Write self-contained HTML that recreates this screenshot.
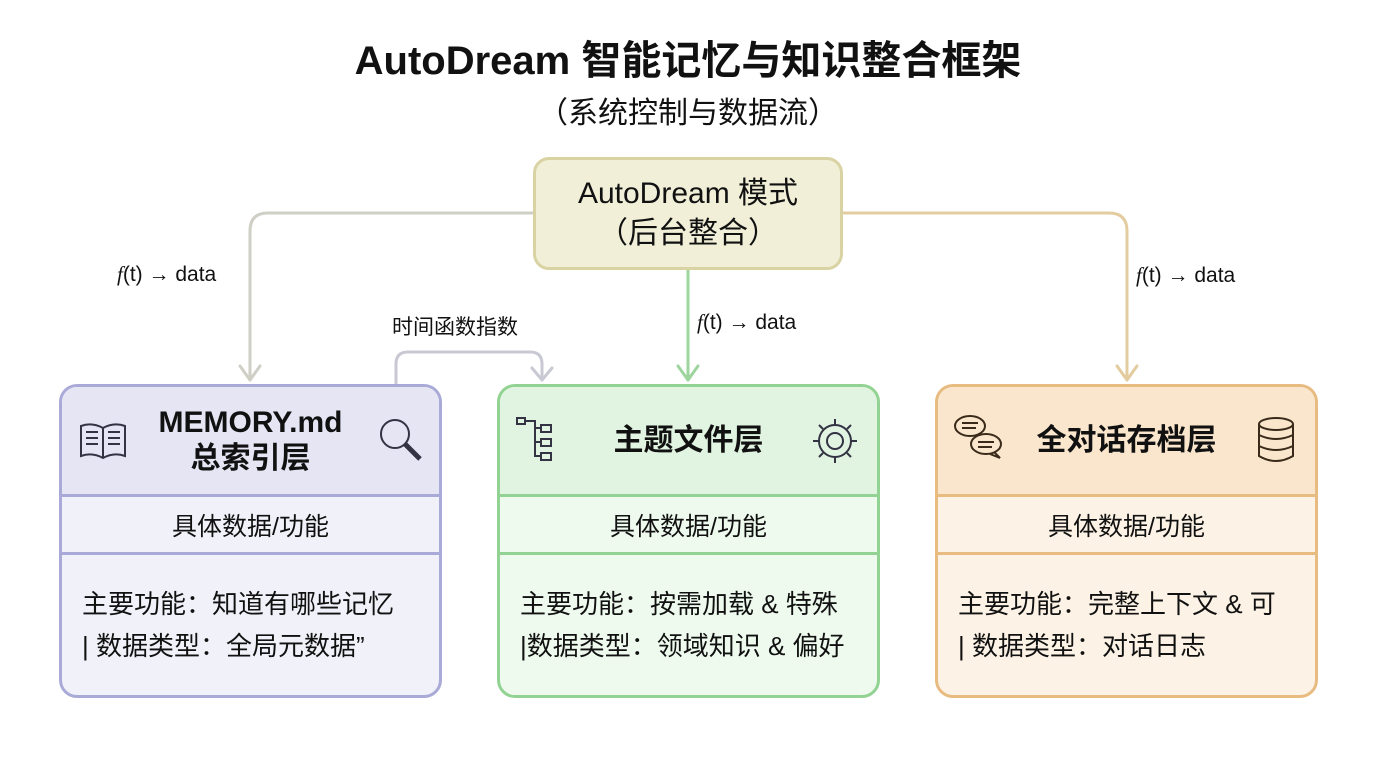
<!DOCTYPE html>
<html><head><meta charset="utf-8"><style>
body{margin:0;width:1376px;height:768px;background:#fff;position:relative;overflow:hidden;font-family:"Liberation Sans","Noto Sans CJK SC",sans-serif;color:#111}
.t{position:absolute;left:0;width:1376px;text-align:center}
.card{position:absolute;top:384px;width:383px;height:314px;border:3px solid;border-radius:18px;overflow:hidden;box-sizing:border-box}
.hd{height:107px;display:flex;align-items:center;justify-content:center;font-size:30px;font-weight:bold;text-align:center;line-height:36px;border-bottom:3px solid}
.sub{height:55px;display:flex;align-items:center;justify-content:center;font-size:25px;border-bottom:3px solid}
.bd{padding:28px 8px 0 20px;font-size:26px;line-height:42px;white-space:nowrap}
.lbl{position:absolute;font-size:21px}
.ic{position:absolute}
</style></head><body>
<div class="t" style="top:28px;font-size:40px;font-weight:bold">AutoDream 智能记忆与知识整合框架</div>
<div class="t" style="top:88px;font-size:30px">（系统控制与数据流）</div>

<svg style="position:absolute;left:0;top:0" width="1376" height="768">
<g fill="none" stroke-width="3" stroke-linecap="round" stroke-linejoin="round">
<path d="M533 213 H268 Q250 213 250 231 V380" stroke="#cfcfc6"/>
<path d="M240 366 L250 380 L260 366" stroke="#cfcfc6"/>
<path d="M843 213 H1109 Q1127 213 1127 231 V380" stroke="#e3cc9f"/>
<path d="M1117 366 L1127 380 L1137 366" stroke="#e3cc9f"/>
<path d="M688 270 V380" stroke="#9ed49e"/>
<path d="M678 366 L688 380 L698 366" stroke="#9ed49e"/>
<path d="M396 384 V364 Q396 352 408 352 H530 Q542 352 542 364 V380" stroke="#c9c9d4"/>
<path d="M532 368 L542 380 L552 368" stroke="#c9c9d4"/>
</g></svg>

<div style="position:absolute;left:533px;top:157px;width:310px;height:113px;box-sizing:border-box;border:3px solid #d9d3a3;background:#f1efd8;border-radius:16px;display:flex;align-items:center;justify-content:center;text-align:center;font-size:30px;line-height:40px">AutoDream 模式<br>（后台整合）</div>

<div class="lbl" style="left:117px;top:262px"><i style="font-family:'Liberation Serif'">f</i>(t) → data</div>
<div class="lbl" style="left:697px;top:310px"><i style="font-family:'Liberation Serif'">f</i>(t) → data</div>
<div class="lbl" style="left:1136px;top:263px"><i style="font-family:'Liberation Serif'">f</i>(t) → data</div>
<div class="lbl" style="left:392px;top:311px">时间函数指数</div>

<div class="card" style="left:59px;border-color:#aaaad8;background:#f1f1f9">
 <div class="hd" style="background:#e5e5f4;border-color:#aaaad8">MEMORY.md<br>总索引层</div>
 <div class="sub" style="border-color:#aaaad8">具体数据/功能</div>
 <div class="bd">主要功能：知道有哪些记忆<br>| 数据类型：全局元数据”</div>
</div>
<div class="card" style="left:497px;border-color:#92d292;background:#eefaee">
 <div class="hd" style="background:#e1f4e1;border-color:#92d292">主题文件层</div>
 <div class="sub" style="border-color:#92d292">具体数据/功能</div>
 <div class="bd">主要功能：按需加载 &amp; 特殊<br>|数据类型：领域知识 &amp; 偏好</div>
</div>
<div class="card" style="left:935px;border-color:#e8bb80;background:#fcf2e5">
 <div class="hd" style="background:#f9e6cc;border-color:#e8bb80">全对话存档层</div>
 <div class="sub" style="border-color:#e8bb80">具体数据/功能</div>
 <div class="bd">主要功能：完整上下文 &amp; 可<br>| 数据类型：对话日志</div>
</div>

<svg class="ic" style="left:78px;top:418px" width="50" height="44" fill="none" stroke="#334" stroke-width="2">
<path d="M3 8 Q14 4 25 10 Q36 4 47 8 V38 Q36 34 25 40 Q14 34 3 38Z M25 10 V40"/>
<path d="M8 14 H20 M8 20 H20 M8 26 H20 M30 14 H42 M30 20 H42 M30 26 H42"/></svg>
<svg class="ic" style="left:376px;top:415px" width="50" height="50" fill="none" stroke="#334" stroke-width="2">
<circle cx="19" cy="19" r="14"/><path d="M29 29 L44 44" stroke-width="5"/></svg>
<svg class="ic" style="left:515px;top:415px" width="50" height="50" fill="none" stroke="#334" stroke-width="2">
<rect x="2" y="3" width="8" height="6"/><rect x="26" y="10" width="10" height="7"/><rect x="26" y="24" width="10" height="7"/><rect x="26" y="38" width="10" height="7"/>
<path d="M10 6 H20 V41 H26 M20 13 H26 M20 27 H26"/></svg>
<svg class="ic" style="left:810px;top:416px" width="50" height="50" fill="none" stroke="#334" stroke-width="2">
<circle cx="25" cy="25" r="16"/><circle cx="25" cy="25" r="8"/>
<path d="M25 3 V9 M25 41 V47 M3 25 H9 M41 25 H47 M9 9 L13 13 M37 37 L41 41 M9 41 L13 37 M37 13 L41 9"/></svg>
<svg class="ic" style="left:952px;top:412px" width="56" height="52" fill="none" stroke="#3a2a1a" stroke-width="2">
<ellipse cx="18" cy="14" rx="15" ry="10"/><ellipse cx="34" cy="32" rx="15" ry="10"/>
<path d="M10 11 H26 M10 16 H24 M26 30 H42 M26 35 H40 M42 40 L48 46 L38 42"/></svg>
<svg class="ic" style="left:1257px;top:416px" width="40" height="48" fill="none" stroke="#3a2a1a" stroke-width="2">
<ellipse cx="19" cy="8" rx="17" ry="6"/><path d="M2 8 V40 Q19 50 36 40 V8 M2 19 Q19 27 36 19 M2 30 Q19 38 36 30"/></svg>
</body></html>
